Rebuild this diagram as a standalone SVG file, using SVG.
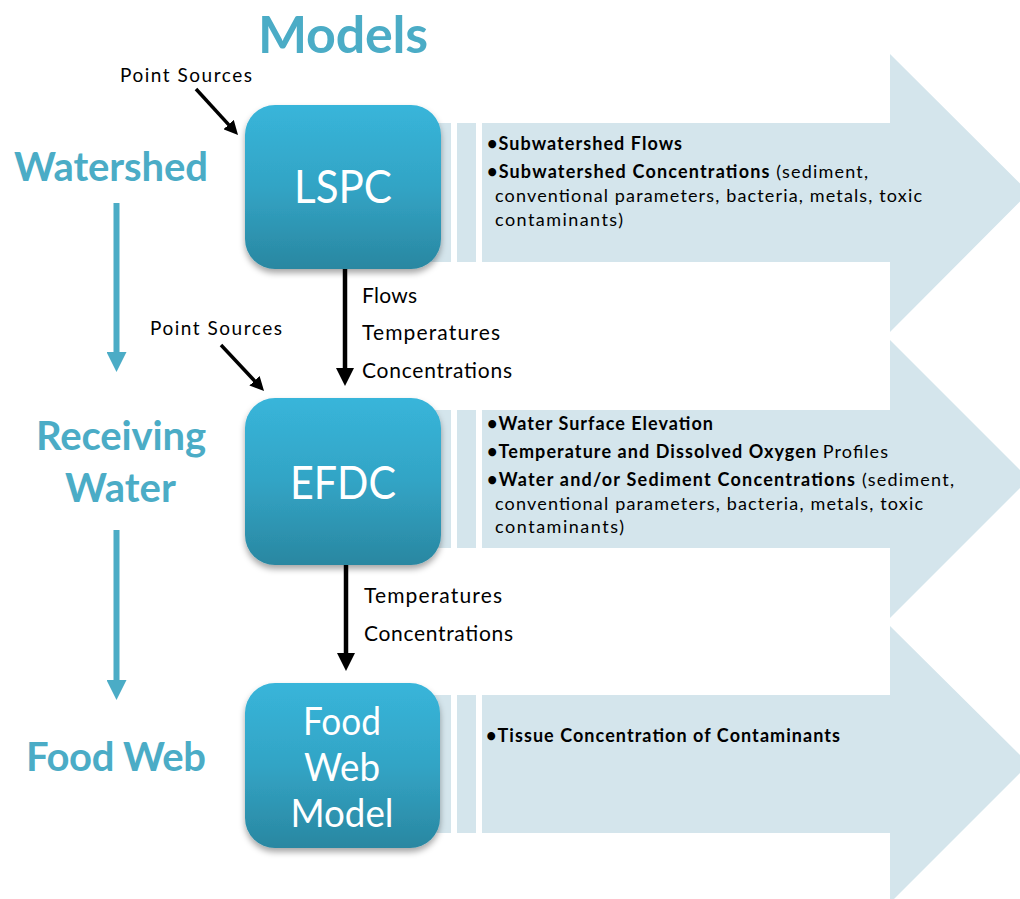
<svg xmlns="http://www.w3.org/2000/svg" width="1020" height="899" viewBox="0 0 1020 899">
  <style>
    .heading { font-family: Lato, "Liberation Sans", sans-serif; font-weight: bold; fill: #4BACC6; }
    .label { font-family: Lato, "Liberation Sans", sans-serif; font-size: 21px; fill: #000000; }
    .small { font-family: Lato, "Liberation Sans", sans-serif; font-size: 19px; fill: #000000; }
    .bullet { font-family: Lato, "Liberation Sans", sans-serif; font-size: 18px; fill: #000000; }
    .bullet .b { font-weight: bold; }
    .boxtext { font-family: Lato, "Liberation Sans", sans-serif; fill: #FFFFFF; text-anchor: middle; }
    .band { fill: #D4E5EC; }
    .box { fill: url(#boxFill); filter: url(#shadow); }
    .link { stroke: #000000; fill: none; marker-end: url(#blackHead); }
    .step { stroke: #4BACC6; stroke-width: 6; fill: none; marker-end: url(#tealHead); }
  </style>
  <defs>
    <linearGradient id="boxFill" x1="0" y1="0" x2="0" y2="1">
      <stop offset="0" stop-color="#38B5DA"/>
      <stop offset="0.5" stop-color="#32A4C5"/>
      <stop offset="1" stop-color="#2A87A1"/>
    </linearGradient>
    <filter id="shadow" x="-10%" y="-10%" width="120%" height="130%">
      <feDropShadow dx="0" dy="4" stdDeviation="3" flood-color="#000000" flood-opacity="0.35"/>
    </filter>
    <marker id="blackHead" markerUnits="strokeWidth" markerWidth="4" markerHeight="4" viewBox="0 0 4 4" refX="0.3" refY="2" orient="auto">
      <path d="M0,0 L4,2 L0,4 Z" fill="#000000"/>
    </marker>
    <marker id="tealHead" markerUnits="userSpaceOnUse" markerWidth="20" markerHeight="20" viewBox="0 0 20 20" refX="1" refY="10" orient="auto">
      <path d="M0,0 L20,10 L0,20 Z" fill="#4BACC6"/>
    </marker>
  </defs>

  <rect width="1020" height="899" fill="#FFFFFF"/>

  <!-- column headings -->
  <text class="heading" x="258" y="53" font-size="52" textLength="170">Models</text>
  <text class="heading" x="14" y="181" font-size="40" textLength="194">Watershed</text>
  <text class="heading" x="36" y="450" font-size="40" textLength="170">Receiving</text>
  <text class="heading" x="65" y="502" font-size="40" textLength="111">Water</text>
  <text class="heading" x="26" y="771" font-size="40" textLength="180">Food Web</text>

  <!-- output bands -->
  <g id="lspc-outputs">
    <rect class="band" x="430" y="123" width="21" height="139"/>
    <rect class="band" x="457" y="123" width="19" height="139"/>
    <polygon class="band" points="482,123 890,123 890,54 1029,192.5 890,332 890,262 482,262"/>
    <text class="bullet" x="487" y="150" textLength="195"><tspan class="b">•Subwatershed Flows</tspan></text>
    <text class="bullet" x="487" y="178" textLength="381"><tspan class="b">•Subwatershed Concentrations</tspan> (sediment,</text>
    <text class="bullet" x="495" y="202" textLength="427">conventional parameters, bacteria, metals, toxic</text>
    <text class="bullet" x="495" y="226" textLength="128">contaminants)</text>
  </g>

  <g id="efdc-outputs">
    <rect class="band" x="430" y="410" width="21" height="138"/>
    <rect class="band" x="457" y="410" width="19" height="138"/>
    <polygon class="band" points="482,410 890,410 890,340 1029,479 890,618 890,548 482,548"/>
    <text class="bullet" x="487" y="430" textLength="226"><tspan class="b">•Water Surface Elevation</tspan></text>
    <text class="bullet" x="487" y="458" textLength="401"><tspan class="b">•Temperature and Dissolved Oxygen</tspan> Profiles</text>
    <text class="bullet" x="487" y="486" textLength="467"><tspan class="b">•Water and/or Sediment Concentrations</tspan> (sediment,</text>
    <text class="bullet" x="495" y="510" textLength="428">conventional parameters, bacteria, metals, toxic</text>
    <text class="bullet" x="495" y="533" textLength="129">contaminants)</text>
  </g>

  <g id="foodweb-outputs">
    <rect class="band" x="430" y="695" width="21" height="138"/>
    <rect class="band" x="457" y="695" width="19" height="138"/>
    <polygon class="band" points="482,695 890,695 890,626 1029,764 890,903 890,833 482,833"/>
    <text class="bullet" x="486" y="742" textLength="354"><tspan class="b">•Tissue Concentration of Contaminants</tspan></text>
  </g>

  <!-- connectors -->
  <g id="connectors">
    <line class="link" x1="196" y1="89" x2="229.3" y2="125.4" stroke-width="3.5"/>
    <line class="link" x1="221" y1="345" x2="255.2" y2="381.5" stroke-width="3.5"/>
    <line class="link" x1="345" y1="269" x2="345" y2="369.3" stroke-width="4.5"/>
    <line class="link" x1="346" y1="565" x2="346" y2="654.4" stroke-width="4.5"/>
    <line class="step" x1="116.5" y1="203" x2="116.5" y2="353"/>
    <line class="step" x1="116.5" y1="530" x2="116.5" y2="681"/>
  </g>

  <!-- connector labels -->
  <g id="labels">
    <text class="small" x="120" y="82" textLength="132">Point Sources</text>
    <text class="small" x="150" y="335" textLength="132">Point Sources</text>
    <text class="label" x="362" y="303" textLength="55">Flows</text>
    <text class="label" x="362" y="340" textLength="138">Temperatures</text>
    <text class="label" x="362" y="378" textLength="150">Concentrations</text>
    <text class="label" x="364" y="603" textLength="138">Temperatures</text>
    <text class="label" x="364" y="641" textLength="149">Concentrations</text>
  </g>

  <!-- model nodes -->
  <g id="lspc">
    <rect class="box" x="245" y="105" width="196" height="164" rx="30"/>
    <text class="boxtext" x="343" y="203" font-size="46" textLength="98" lengthAdjust="spacingAndGlyphs">LSPC</text>
  </g>
  <g id="efdc">
    <rect class="box" x="245" y="398" width="196" height="167" rx="30"/>
    <text class="boxtext" x="343" y="499" font-size="46" textLength="106" lengthAdjust="spacingAndGlyphs">EFDC</text>
  </g>
  <g id="food-web-model">
    <rect class="box" x="245" y="683" width="195" height="165" rx="30"/>
    <text class="boxtext" x="342" y="735" font-size="38" textLength="78" lengthAdjust="spacingAndGlyphs">Food</text>
    <text class="boxtext" x="342" y="781" font-size="38" textLength="76" lengthAdjust="spacingAndGlyphs">Web</text>
    <text class="boxtext" x="342" y="827" font-size="38" textLength="103" lengthAdjust="spacingAndGlyphs">Model</text>
  </g>
</svg>
